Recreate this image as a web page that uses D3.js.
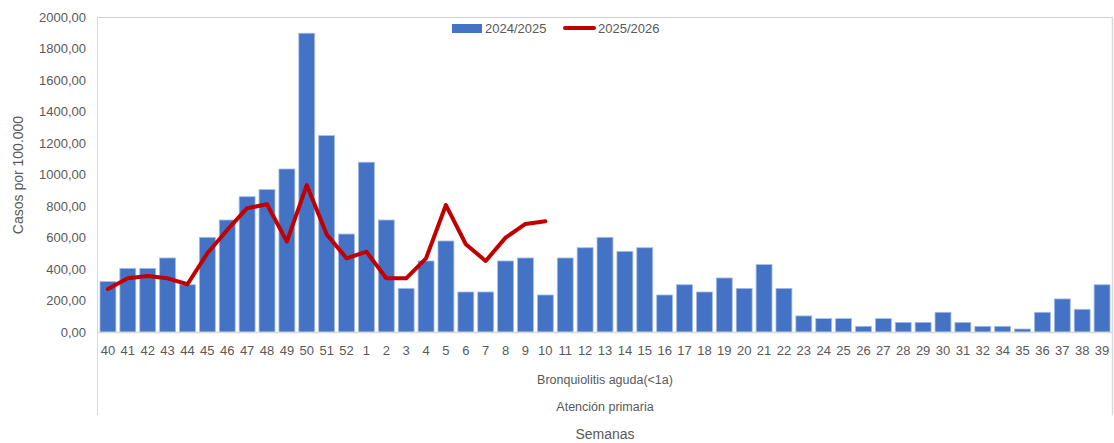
<!DOCTYPE html>
<html><head><meta charset="utf-8">
<script src="https://cdn.jsdelivr.net/npm/d3@7"></script>
<style>
body{margin:0;background:#fff;}
text{font-family:"Liberation Sans",Arial,sans-serif;fill:#595959;}
</style></head>
<body><svg id="chart" width="1114" height="443"></svg>
<script>
const weeks = ["40","41","42","43","44","45","46","47","48","49","50","51","52","1","2","3","4","5","6","7","8","9","10","11","12","13","14","15","16","17","18","19","20","21","22","23","24","25","26","27","28","29","30","31","32","34","35","36","37","38","39"];
const season2425 = [320,404,404,470,300,601,711,859,904,1035,1897,1247,622,1078,711,277,451,578,254,254,451,470,235,470,535,601,512,535,235,300,254,343,277,428,277,102,85,85,36,85,61,61,125,61,36,36,19,125,210,144,300];
const season2526 = [273,341,356,341,303,500,648,786,811,574,933,620,468,510,341,341,468,806,557,451,599,686,703];
const yTicks = [0,200,400,600,800,1000,1200,1400,1600,1800,2000];
const seriesNames = ["2024/2025","2025/2026"];
const groupLabel1 = "Bronquiolitis aguda(<1a)";
const groupLabel2 = "Atención primaria";
const xTitle = "Semanas";
const yTitle = "Casos por 100.000";

(function(){
const svg = d3.select("#chart");
const mLeft = 98, mRight = 1112, mTop = 17, mBase = 332;
const x = d3.scaleBand().domain(weeks).range([mLeft, mRight]).paddingInner(0.2).paddingOuter(0.1);
const y = d3.scaleLinear().domain([0, 2000]).range([mBase, mTop]);
const loc = d3.formatLocale({decimal: ",", thousands: ".", grouping: [3], currency: ["", "€"]});
const fmt = loc.format(".2f");

// frame
svg.append("line").attr("x1", mLeft).attr("x2", mRight).attr("y1", mTop + 0.5).attr("y2", mTop + 0.5).attr("stroke", "#D0D0D0").attr("stroke-width", 1);
svg.append("line").attr("x1", mLeft - 0.5).attr("x2", mLeft - 0.5).attr("y1", mTop).attr("y2", 415).attr("stroke", "#D9D9D9").attr("stroke-width", 1);
svg.append("line").attr("x1", mRight + 0.5).attr("x2", mRight + 0.5).attr("y1", mTop).attr("y2", 415).attr("stroke", "#D9D9D9").attr("stroke-width", 1.5);

// y axis
const yAxis = d3.axisLeft(y).tickValues(yTicks).tickFormat(fmt).tickSize(0).tickPadding(12);
const gy = svg.append("g").attr("transform", `translate(${mLeft},0)`).call(yAxis);
gy.select(".domain").remove();
gy.selectAll("text").style("font-size", "13px").style("font-family", "Liberation Sans, Arial, sans-serif").attr("fill", "#595959");

// bars
svg.append("g").selectAll("rect").data(weeks).join("rect")
  .attr("x", d => x(d)).attr("width", x.bandwidth())
  .attr("y", (d, i) => y(season2425[i])).attr("height", (d, i) => y(0) - y(season2425[i]))
  .attr("fill", "#4472C4").attr("stroke", "#A5BCE6").attr("stroke-width", 0.8);

// baseline
svg.append("line").attr("x1", mLeft).attr("x2", mRight).attr("y1", mBase + 0.5).attr("y2", mBase + 0.5).attr("stroke", "#D9D9D9").attr("stroke-width", 1.5);

// x axis
const xAxis = d3.axisBottom(x).tickSize(0).tickPadding(14);
const gx = svg.append("g").attr("transform", `translate(0,${mBase})`).call(xAxis);
gx.select(".domain").remove();
gx.selectAll("text").style("font-size", "13px").style("font-family", "Liberation Sans, Arial, sans-serif").attr("fill", "#595959");

// line
const line = d3.line().x((d, i) => x(weeks[i]) + x.bandwidth() / 2).y(d => y(d));
svg.append("path").datum(season2526).attr("d", line).attr("fill", "none")
  .attr("stroke", "#C00000").attr("stroke-width", 4).attr("stroke-linejoin", "round").attr("stroke-linecap", "round");

// group labels
const cx = (mLeft + mRight) / 2;
svg.append("text").attr("x", cx).attr("y", 384).attr("text-anchor", "middle").style("font-size", "12.5px").text(groupLabel1);
svg.append("text").attr("x", cx).attr("y", 411).attr("text-anchor", "middle").style("font-size", "12.5px").text(groupLabel2);
svg.append("text").attr("x", cx).attr("y", 439).attr("text-anchor", "middle").style("font-size", "14px").text(xTitle);
svg.append("text").attr("transform", "translate(23,175) rotate(-90)").attr("text-anchor", "middle").style("font-size", "14px").text(yTitle);

// legend
const lg = svg.append("g");
lg.append("rect").attr("x", 452).attr("y", 24).attr("width", 30).attr("height", 9).attr("fill", "#4472C4");
lg.append("text").attr("x", 485).attr("y", 33).style("font-size", "13px").text(seriesNames[0]);
lg.append("line").attr("x1", 565).attr("x2", 594).attr("y1", 28).attr("y2", 28).attr("stroke", "#C00000").attr("stroke-width", 4).attr("stroke-linecap", "round");
lg.append("text").attr("x", 598).attr("y", 33).style("font-size", "13px").text(seriesNames[1]);
})();
</script></body></html>
